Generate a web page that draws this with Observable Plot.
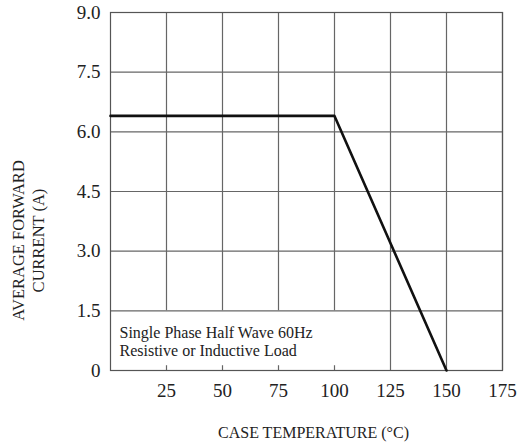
<!DOCTYPE html>
<html><head><meta charset="utf-8">
<script src="https://cdn.jsdelivr.net/npm/d3@7"></script>
<script src="https://cdn.jsdelivr.net/npm/@observablehq/plot@0.6"></script>
<style>body{margin:0;background:#fff}</style>
</head><body><div id="chart"></div>
<script>
const temps = [0, 100, 150];
const current = [6.4, 6.4, 0];
const xTicks = [25, 50, 75, 100, 125, 150, 175];
const yTicks = [0, 1.5, 3.0, 4.5, 6.0, 7.5, 9.0];
const yTickLabels = ["0", "1.5", "3.0", "4.5", "6.0", "7.5", "9.0"];
const xTitle = "CASE TEMPERATURE (°C)";
const yTitle = "AVERAGE FORWARD\nCURRENT (A)";
const note = "Single Phase Half Wave 60Hz\nResistive or Inductive Load";
const noteEndX = 100;

const curve = temps.map((t, i) => ({t, a: current[i]}));
const yMax = yTicks[yTicks.length - 1];
const font = "Liberation Serif, Times New Roman, serif";

const chart = Plot.plot({
  width: 522,
  height: 445,
  marginLeft: 110,
  marginRight: 20,
  marginTop: 12,
  marginBottom: 75,
  style: {fontFamily: font, fontSize: "19px", color: "#222", background: "#fff"},
  x: {domain: [0, 175]},
  y: {domain: [0, yMax]},
  marks: [
    Plot.ruleX(xTicks, {x: d => d, y1: d => d <= noteEndX ? yTicks[1] : 0, y2: yMax, stroke: "#666", strokeWidth: 1.2}),
    Plot.ruleY(yTicks.slice(1, -1), {y: d => d, stroke: "#666", strokeWidth: 1.2}),
    Plot.ruleX(xTicks.filter(d => d <= noteEndX), {x: d => d, y1: 0, y2: 0.12, stroke: "#666", strokeWidth: 1.2}),
    Plot.frame({stroke: "#555", strokeWidth: 1.2}),
    Plot.axisX(xTicks, {tickSize: 0, tickPadding: 13, label: null, fontSize: 19}),
    Plot.axisY(yTicks, {tickSize: 0, tickPadding: 10, label: null, fontSize: 19,
      tickFormat: d => yTickLabels[yTicks.indexOf(d)]}),
    Plot.line(curve, {x: "t", y: "a", stroke: "#111", strokeWidth: 2.6}),
    Plot.text([note], {text: d => d, frameAnchor: "bottom-left", textAnchor: "start", lineAnchor: "bottom",
      dx: 9, dy: -15, fontSize: 16, lineHeight: 1.07, fill: "#222"}),
    Plot.text([xTitle], {text: d => d, frameAnchor: "bottom", lineAnchor: "middle", dx: 7, dy: 62, fontSize: 16, fill: "#222"}),
    Plot.text([yTitle], {text: d => d, frameAnchor: "left", textAnchor: "middle", rotate: -90, lineAnchor: "middle", dx: -83, dy: 49, fontSize: 16.5, lineHeight: 1.25, fill: "#222"})
  ]
});
document.getElementById("chart").append(chart);
</script>
</body></html>
